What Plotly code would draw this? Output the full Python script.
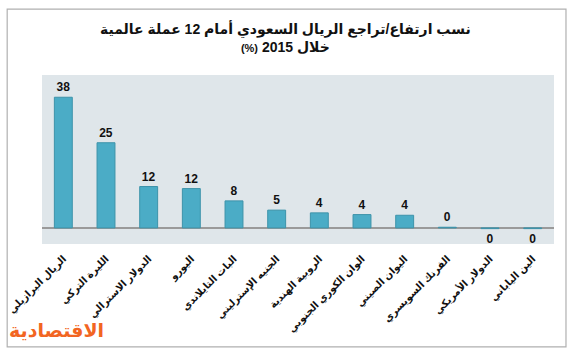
import plotly.graph_objects as go

categories = [
    "الريال البرازيلي",
    "الليرة التركي",
    "الدولار الاسترالي",
    "اليورو",
    "البات التايلاندي",
    "الجنيه الإسترليني",
    "الروبية الهندية",
    "الوان الكوري الجنوبي",
    "اليوان الصيني",
    "الفرنك السويسري",
    "الدولار الأمريكي",
    "الين الياباني",
]
values = [38.2, 24.9, 12.1, 11.5, 7.9, 5.2, 4.4, 3.9, 3.7, 0.2, -0.2, -0.2]
value_labels = ["38", "25", "12", "12", "8", "5", "4", "4", "4", "0", "0", "0"]

RLM = "\u200f"
title_line1 = "نسب ارتفاع/تراجع الريال السعودي أمام 12 عملة عالمية"
title_line2 = "خلال 2015 <span style='font-size:11px'>(%)" + RLM + "</span>"
logo_text = "الاقتصادية"

FONT = "Liberation Sans, DejaVu Sans, Arial, sans-serif"

fig = go.Figure()
fig.add_trace(go.Bar(
    x=categories,
    y=values,
    text=value_labels,
    textposition="outside",
    textfont=dict(family=FONT, size=12, color="#111111", weight="bold"),
    marker=dict(color="#4bacc6", line=dict(color="#3d93aa", width=1)),
    width=0.42,
    cliponaxis=False,
))

fig.update_layout(
    width=570, height=351,
    margin=dict(l=42, r=16, t=75, b=107),
    paper_bgcolor="white",
    plot_bgcolor="#dfe6ea",
    showlegend=False,
    font=dict(family=FONT),
    xaxis=dict(
        tickangle=-45,
        tickfont=dict(family=FONT, size=10, color="#111111", weight="bold"),
        showgrid=False, ticks="", showline=False,
        ticklabelstandoff=6,
        automargin=False,
    ),
    yaxis=dict(
        range=[-4.7, 44.7],
        showgrid=False, showticklabels=False, ticks="",
        zeroline=True, zerolinecolor="#9a9a9a", zerolinewidth=1.5,
        automargin=False,
    ),
    shapes=[dict(
        type="rect", xref="paper", yref="paper",
        x0=-0.068, x1=1.0234, y0=-0.609, y1=1.39,
        line=dict(color="#b0b0b0", width=1.2), fillcolor="rgba(0,0,0,0)",
        layer="below",
    )],
    annotations=[
        dict(
            text=title_line1 + "<br>" + title_line2,
            xref="paper", yref="paper", x=0.475, y=1.335,
            xanchor="center", yanchor="top", align="center",
            showarrow=False,
            font=dict(family=FONT, size=14, color="#111111", weight="bold"),
        ),
        dict(
            text=logo_text,
            xref="paper", yref="paper", x=0.029, y=-0.51,
            xanchor="center", yanchor="middle",
            showarrow=False,
            font=dict(family=FONT, size=19, color="#f26522", weight="bold"),
        ),
    ],
)

fig.write_html("out.html")
